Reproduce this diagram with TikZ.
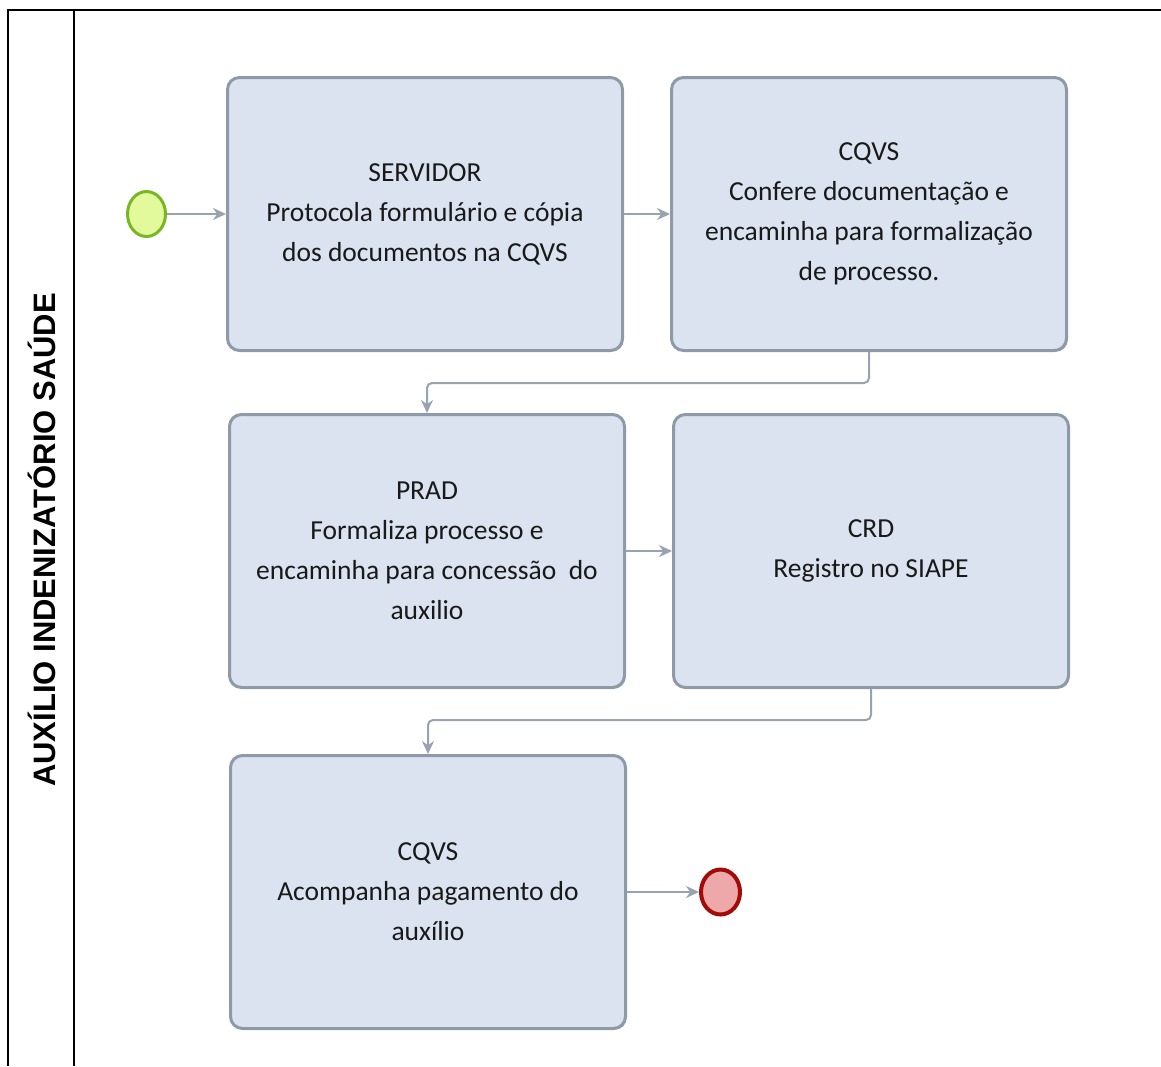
\documentclass[tikz,border=0pt]{standalone}
\usepackage{fontspec}
\setmainfont{Carlito}
\newfontfamily\lanefont{Liberation Sans}
\usetikzlibrary{arrows.meta}
\usetikzlibrary{calc}
\usetikzlibrary{shadows}
\usetikzlibrary{shapes.geometric}
\usetikzlibrary{positioning}

\definecolor{taskfill}{HTML}{DAE3EF}
\definecolor{taskline}{HTML}{8F9AA8}
\definecolor{flowline}{HTML}{98A3B0}
\definecolor{startfill}{HTML}{E3FA9C}
\definecolor{startline}{HTML}{78B626}
\definecolor{endfill}{HTML}{EDA8AA}
\definecolor{endline}{HTML}{A30A0A}

\begin{document}
\begin{tikzpicture}[x=1pt, y=-1pt,
    task/.style={draw=taskline, fill=taskfill, line width=3pt, rounded corners=12pt,
      minimum width=395pt, minimum height=273pt, align=center, text=black!90,
      font=\fontsize{27.5}{40}\selectfont,
      drop shadow={shadow xshift=1.2pt, shadow yshift=-1.2pt, fill=taskline, opacity=.8}},
    startev/.style={ellipse, draw=startline, fill=startfill, line width=3pt,
      minimum width=38pt, minimum height=45pt},
    endev/.style={ellipse, draw=endline, fill=endfill, line width=4pt,
      minimum width=39pt, minimum height=45pt},
    flow/.style={draw=flowline, line width=2pt, rounded corners=5pt,
      -{Stealth[length=13pt, width=12pt]}}]
        \useasboundingbox (0,0) rectangle (1161,1066);

        % pool and lane
        \draw[line width=1.5pt] (8,1066) -- (8,10) -- (1161,10);
        \draw[line width=1.5pt] (74,10) -- (74,1066);
        \node[rotate=90, font=\lanefont\bfseries\fontsize{31}{33}\selectfont] (lane) at (42,540) {AUXÍLIO INDENIZATÓRIO SAÚDE};

        \node[task] (servidor) at (425,214) {SERVIDOR\\Protocola formulário e cópia\\dos documentos na CQVS};
        \node[task, right=46pt of servidor] (confere) {CQVS\\Confere documentação e\\encaminha para formalização\\de processo.};
        \node[task, below=61pt of servidor, xshift=2pt] (prad) {PRAD\\Formaliza processo e\\encaminha para concessão~ do\\auxilio};
        \node[task, right=46pt of prad] (crd) {CRD\\Registro no SIAPE};
        \node[task, below=65pt of prad, xshift=1pt] (acomp) {CQVS\\Acompanha pagamento do\\auxílio};

        \node[startev, left=59pt of servidor] (inicio) {};
        \node[endev, right=72pt of acomp] (fim) {};

        \draw[flow] (inicio) -- (servidor);
        \draw[flow] (servidor) -- (confere);
        \draw[flow] (confere.south) -- ++(0,31) -| (prad.north);
        \draw[flow] (prad) -- (crd);
        \draw[flow] (crd.south) -- ++(0,31) -| (acomp.north);
        \draw[flow] (acomp) -- (fim);
    \end{tikzpicture}
\end{document}
